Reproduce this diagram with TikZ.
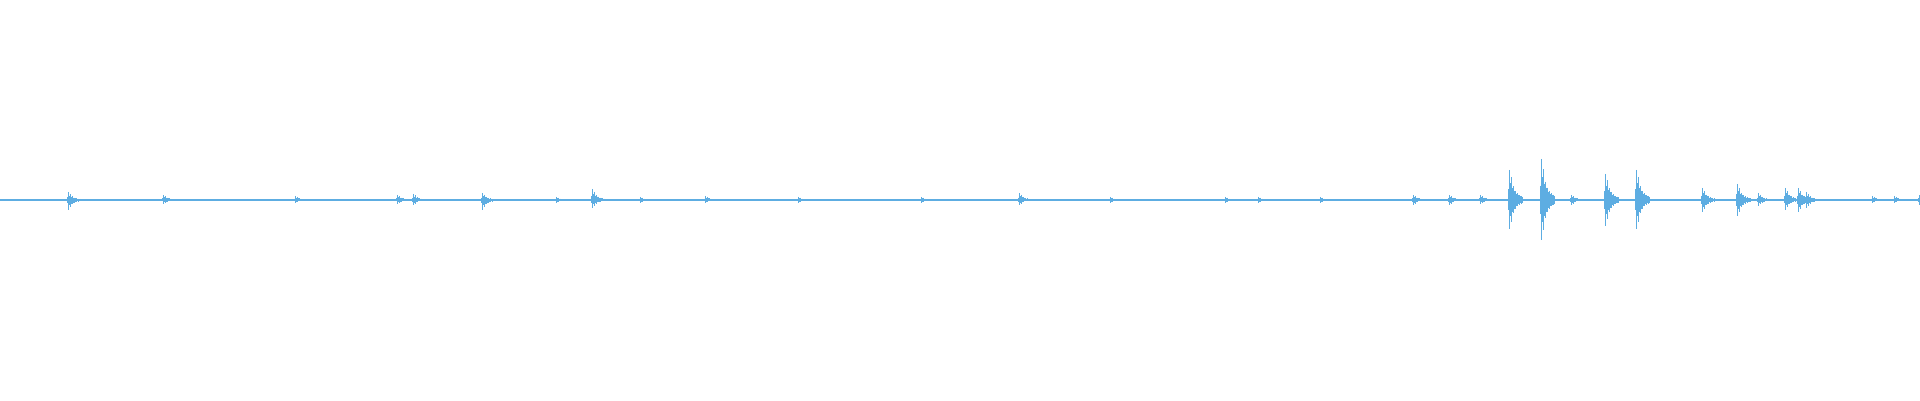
\documentclass[tikz,border=0pt]{standalone}
\usepackage{xcolor}
\definecolor{wave}{RGB}{93,173,226}
\usetikzlibrary{positioning}

\begin{document}
\begin{tikzpicture}
[x=0.75pt, y=0.75pt,
 trace/.style={draw=wave, line width=0.9pt},
 bar/.style={draw=wave, line width=0.75pt},
]

\useasboundingbox (0,0) rectangle (1920,400);

% baseline of the recording
\coordinate (start) at (0,200);
\coordinate (end) at (1920,200);
\draw[trace] (start) -- (end);

% bursts: position / peak up / peak down
\foreach \px/\up/\dn in {68/8/10, 163/5/4, 295/4/3, 397/5/4, 413/6/5, 482/7/10,
  556/3/3, 592/11/8, 640/3/3, 705/4/3, 798/3/3, 921/3/3, 1019/7/5, 1110/3/3,
  1225/3/3, 1258/3/3, 1320/3/3, 1413/5/5, 1449/5/5, 1480/5/4,
  1509/30/29, 1541/41/40, 1571/5/5, 1605/26/26, 1636/30/29,
  1702/12/12, 1737/16/16, 1758/7/6, 1785/12/10, 1798/12/12, 1806/8/8,
  1872/4/3, 1894/4/3, 1919/5/5}
{
  \foreach \k/\f in {-1/0.35, 0/1, 1/0.55, 2/0.75, 3/0.4, 4/0.45, 5/0.3, 6/0.3,
                     7/0.2, 8/0.22, 9/0.15, 10/0.16, 11/0.12, 12/0.13, 13/0.1}
    \draw[bar] (\px+\k,{200+\up*\f}) -- (\px+\k,{200-\dn*\f});
}

\end{tikzpicture}
\end{document}
